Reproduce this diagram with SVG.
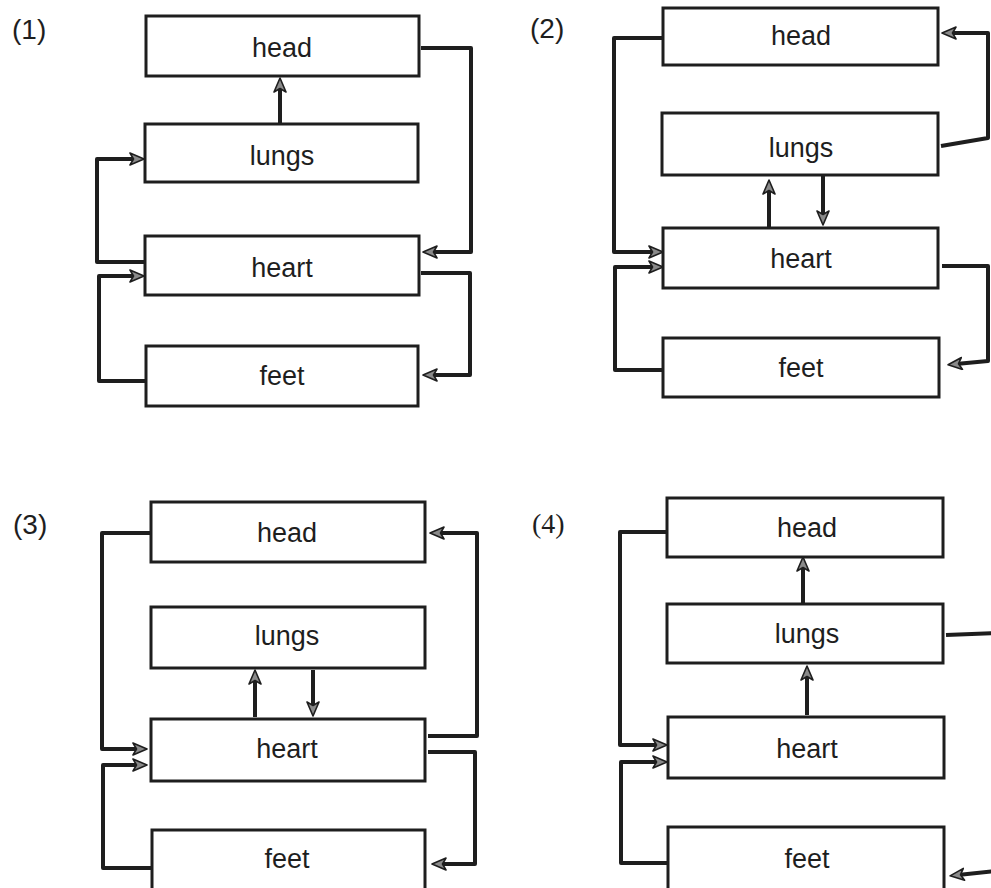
<svg xmlns="http://www.w3.org/2000/svg" width="991" height="888" viewBox="0 0 991 888">
<defs>
<style>
.box{fill:#fff;stroke:#1e1e1e;stroke-width:3}
.t{font-family:"Liberation Sans",Arial,sans-serif;font-size:27px;fill:#1e1e1e;text-anchor:middle}
.lbl{font-family:"Liberation Sans",Arial,sans-serif;font-size:28px;fill:#1e1e1e}
.c{fill:none;stroke:#1e1e1e;stroke-width:4;stroke-linejoin:round}
.ca{fill:none;stroke:#1e1e1e;stroke-width:4;stroke-linejoin:round;marker-end:url(#ah)}
</style>
<marker id="ah" viewBox="0 0 16 14" refX="7" refY="7" markerWidth="16" markerHeight="14" orient="auto" markerUnits="userSpaceOnUse">
<path d="M1,1 L15,7 L1,13 L4.5,7 Z" fill="#8a8a8a" stroke="#1e1e1e" stroke-width="1.6" stroke-linejoin="round"/>
</marker>
</defs>
<rect width="991" height="888" fill="#fff"/>

<text class="lbl" x="12" y="39">(1)</text>
<text class="lbl" x="530" y="38">(2)</text>
<text class="lbl" x="13" y="534">(3)</text>
<text class="lbl" x="532" y="533" style="font-family:'Liberation Serif',serif">(4)</text>

<g id="connectors">
<!-- panel 1 -->
<path class="ca" d="M280,124 L280,86"/>
<path class="ca" d="M421,48 L471,48 L471,252 L431,252"/>
<path class="ca" d="M145,262 L97,262 L97,159 L136,159"/>
<path class="ca" d="M146,381 L99,381 L99,276 L136,276"/>
<path class="ca" d="M421,273 L470,273 L470,375 L431,375"/>
<!-- panel 2 -->
<path class="ca" d="M663,38 L614,38 L614,252 L655,252"/>
<path class="ca" d="M663,370 L615,370 L615,267 L655,267"/>
<path class="ca" d="M941,146 L988,138 L988,33 L950,33"/>
<path class="ca" d="M942,266 L988,266 L988,361 L956,364"/>
<path class="ca" d="M769,227 L769,188"/>
<path class="ca" d="M823,176 L823,217"/>
<!-- panel 3 -->
<path class="ca" d="M151,533 L102,533 L102,749 L139,749"/>
<path class="ca" d="M152,868 L103,868 L103,765 L139,765"/>
<path class="ca" d="M428,736 L477,736 L477,533 L438,533"/>
<path class="ca" d="M428,752 L475,752 L475,864 L440,864"/>
<path class="ca" d="M255,717 L255,678"/>
<path class="ca" d="M313,670 L313,708"/>
<!-- panel 4 -->
<path class="ca" d="M667,532 L620,532 L620,745 L659,745"/>
<path class="ca" d="M668,863 L621,863 L621,762 L659,762"/>
<path class="ca" d="M803,604 L803,565"/>
<path class="ca" d="M807,715 L807,674"/>
<path class="c" d="M946,635 L995,633"/>
<path class="ca" d="M996,871 L958,875"/>
</g>

<g id="p1-head"><rect class="box" x="146" y="16" width="273" height="60"/><text class="t" x="282" y="57">head</text></g>
<g id="p1-lungs"><rect class="box" x="145" y="124" width="273" height="58"/><text class="t" x="282" y="165">lungs</text></g>
<g id="p1-heart"><rect class="box" x="145" y="236" width="274" height="59"/><text class="t" x="282" y="277">heart</text></g>
<g id="p1-feet"><rect class="box" x="146" y="346" width="272" height="60"/><text class="t" x="282" y="385">feet</text></g>

<g id="p2-head"><rect class="box" x="663" y="8" width="275" height="57"/><text class="t" x="801" y="45">head</text></g>
<g id="p2-lungs"><rect class="box" x="662" y="113" width="276" height="62"/><text class="t" x="801" y="157">lungs</text></g>
<g id="p2-heart"><rect class="box" x="663" y="228" width="275" height="60"/><text class="t" x="801" y="268">heart</text></g>
<g id="p2-feet"><rect class="box" x="663" y="338" width="276" height="59"/><text class="t" x="801" y="377">feet</text></g>

<g id="p3-head"><rect class="box" x="151" y="502" width="274" height="60"/><text class="t" x="287" y="542">head</text></g>
<g id="p3-lungs"><rect class="box" x="151" y="607" width="274" height="61"/><text class="t" x="287" y="645">lungs</text></g>
<g id="p3-heart"><rect class="box" x="151" y="719" width="274" height="62"/><text class="t" x="287" y="758">heart</text></g>
<g id="p3-feet"><rect class="box" x="152" y="830" width="273" height="70"/><text class="t" x="287" y="868">feet</text></g>

<g id="p4-head"><rect class="box" x="667" y="498" width="276" height="59"/><text class="t" x="807" y="537">head</text></g>
<g id="p4-lungs"><rect class="box" x="667" y="604" width="276" height="59"/><text class="t" x="807" y="643">lungs</text></g>
<g id="p4-heart"><rect class="box" x="668" y="717" width="276" height="61"/><text class="t" x="807" y="758">heart</text></g>
<g id="p4-feet"><rect class="box" x="668" y="827" width="276" height="73"/><text class="t" x="807" y="868">feet</text></g>
</svg>
